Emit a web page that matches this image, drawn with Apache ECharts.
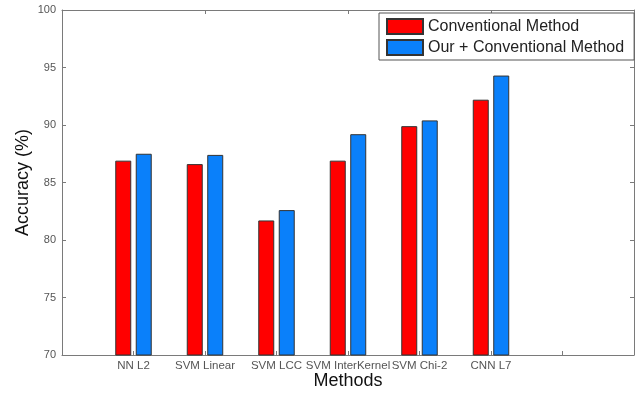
<!DOCTYPE html>
<html>
<head>
<meta charset="utf-8">
<script src="https://cdn.jsdelivr.net/npm/echarts@6/dist/echarts.min.js"></script>
<style>
  html, body { margin: 0; padding: 0; background: #fff; }
  #container { width: 637px; height: 394px; }
</style>
</head>
<body>
<div id="container"></div>
<script>
// methods on the x axis (an empty slot before, and two after, like the original xlim)
var methods = ["NN L2", "SVM Linear", "SVM LCC", "SVM InterKernel", "SVM Chi-2", "CNN L7"];
var conventional = [86.9, 86.6, 81.7, 86.9, 89.9, 92.2];
var ourConventional = [87.5, 87.4, 82.6, 89.2, 90.4, 94.3];
var yTicks = { min: 70, max: 100, step: 5 };

// pad the category list so ticks sit at 1..7 of a 0..8 range
var cats = [""].concat(methods, ["", ""]);
function pad(arr) {
  return [null].concat(arr, [null, null]);
}

var dom = document.getElementById("container");
var myChart = echarts.init(dom, null, { renderer: "canvas" });

var frame = "#7a7a7a";
var font = "Liberation Sans, Arial, sans-serif";

var option = {
  animation: false,
  backgroundColor: "#fff",
  textStyle: { fontFamily: font },
  grid: { left: 62, right: 3, top: 10, bottom: 39, outerBoundsMode: "none" },
  legend: {
    orient: "vertical",
    left: 379,
    top: 13,
    padding: [5, 10, 4, 7],
    itemGap: 4,
    itemWidth: 36,
    itemHeight: 15,
    icon: "rect",
    borderColor: "#555",
    borderWidth: 1,
    backgroundColor: "#fff",
    textStyle: { fontSize: 16, color: "#222", fontFamily: font },
    data: ["Conventional Method", "Our + Conventional Method"],
  },
  xAxis: [
    {
      type: "category",
      data: cats,
      boundaryGap: false,
      name: "Methods",
      nameLocation: "middle",
      nameGap: 17,
      nameMoveOverlap: false,
      nameTextStyle: { fontSize: 18, color: "#111", fontFamily: font },
      axisLine: { show: true, lineStyle: { color: frame, width: 1 } },
      axisTick: { show: true, inside: true, length: 4, lineStyle: { color: frame } },
      axisLabel: { interval: 0, fontSize: 11.5, color: "#555", margin: 5, fontFamily: font },
      splitLine: { show: false },
    },
    {
      type: "category",
      position: "top",
      data: cats,
      boundaryGap: false,
      axisLine: { show: true, lineStyle: { color: frame, width: 1 } },
      axisTick: { show: true, inside: true, length: 4, lineStyle: { color: frame } },
      axisLabel: { show: false },
      splitLine: { show: false },
    },
  ],
  yAxis: [
    {
      type: "value",
      min: yTicks.min,
      max: yTicks.max,
      interval: yTicks.step,
      name: "Accuracy (%)",
      nameLocation: "middle",
      nameGap: 30,
      nameMoveOverlap: false,
      nameTextStyle: { fontSize: 18, color: "#111", fontFamily: font },
      axisLine: { show: true, lineStyle: { color: frame, width: 1 } },
      axisTick: { show: true, inside: true, length: 4, lineStyle: { color: frame } },
      axisLabel: { fontSize: 11, color: "#555", margin: 6, fontFamily: font },
      splitLine: { show: false },
    },
    {
      type: "value",
      position: "right",
      min: yTicks.min,
      max: yTicks.max,
      interval: yTicks.step,
      axisLine: { show: true, lineStyle: { color: frame, width: 1 } },
      axisTick: { show: true, inside: true, length: 4, lineStyle: { color: frame } },
      axisLabel: { show: false },
      splitLine: { show: false },
    },
  ],
  series: [
    {
      name: "Conventional Method",
      type: "bar",
      barWidth: 16,
      barGap: "28%",
      data: pad(conventional),
      itemStyle: { color: "#ff0000", borderColor: "#333", borderWidth: 1 },
    },
    {
      name: "Our + Conventional Method",
      type: "bar",
      barWidth: 16,
      barGap: "28%",
      data: pad(ourConventional),
      itemStyle: { color: "#0a80fa", borderColor: "#333", borderWidth: 1 },
    },
  ],
};

myChart.setOption(option);
window.addEventListener("resize", myChart.resize);
</script>
</body>
</html>
